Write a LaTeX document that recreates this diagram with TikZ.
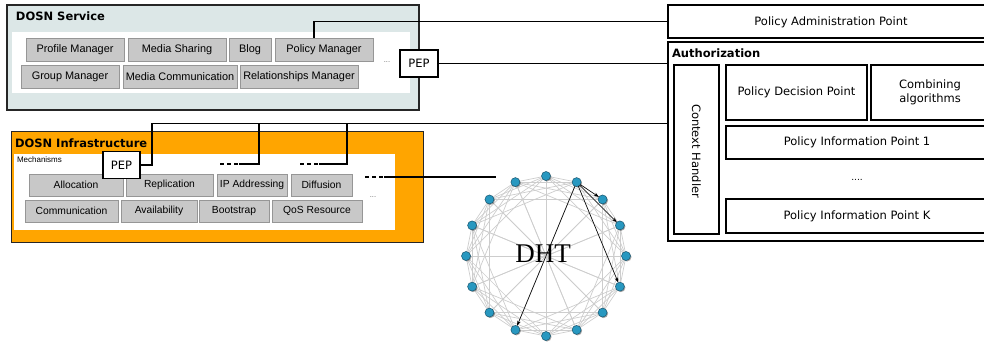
\documentclass[tikz,border=0pt]{standalone}
\usepackage{fontspec}
\setmainfont{DejaVu Sans}
\newfontfamily\arialf{Liberation Sans}
\newfontfamily\dhtf{Liberation Serif}
\usetikzlibrary{arrows.meta,shadows}
\definecolor{svcfill}{RGB}{220,231,231}
\definecolor{infrafill}{RGB}{255,165,0}
\definecolor{gfill}{RGB}{200,200,200}
\definecolor{gline}{RGB}{150,150,150}
\definecolor{dotfill}{RGB}{40,152,192}
\definecolor{dotline}{RGB}{25,85,110}
\definecolor{edgegray}{RGB}{205,205,205}
\begin{document}
\begin{tikzpicture}[x=1pt,y=-1pt,
  every node/.style={inner sep=0pt, outer sep=0pt},
  gbox/.style={draw=gline, line width=0.6pt, fill=gfill, font=\arialf\fontsize{10.9}{12}\selectfont},
  gboxs/.style={gbox, font=\arialf\fontsize{10.3}{12}\selectfont},
  frame/.style={draw=black!85, line width=1.9pt},
  wbox/.style={draw=black, line width=1.7pt, fill=white, font=\fontsize{11.5}{13.5}\selectfont, align=center},
  pepbox/.style={draw=black, line width=1.6pt, fill=white, font=\fontsize{11.5}{13.5}\selectfont},
  title/.style={anchor=west, font=\bfseries\fontsize{11.5}{13.5}\selectfont},
  conn/.style={draw=black, line width=1.8pt},
  dashseg/.style={draw=black, line width=1.8pt, dash pattern=on 4pt off 3pt},
  dots/.style={font=\arialf\fontsize{7.5}{8}\selectfont, text=black!60},
  dnode/.style={circle, minimum size=9pt, fill=dotfill, draw=dotline, line width=0.5pt,
    drop shadow={shadow xshift=1pt, shadow yshift=-1pt, opacity=0.35, fill=black}},
  dedge/.style={draw=edgegray, line width=0.7pt},
  darrow/.style={draw=black, line width=0.6pt, -{Stealth[length=5pt,width=3.5pt]}}
]
\useasboundingbox (0,0) rectangle (984,345);

% ---------- DOSN Service ----------
\node[frame, fill=svcfill, minimum width=412pt, minimum height=105pt] (svc) at (213,57.5) {};
\node[title] (svct) at (16,16) {DOSN Service};
\node[fill=white, minimum width=398pt, minimum height=61pt] (svcin) at (211,62.5) {};
\node[gbox, minimum width=98pt, minimum height=23pt] (prof) at (75,49.5) {Profile Manager};
\node[gbox, minimum width=98pt, minimum height=23pt] (msh) at (177,49.5) {Media Sharing};
\node[gbox, minimum width=42pt, minimum height=23pt] (blog) at (250,49.5) {Blog};
\node[gbox, minimum width=98pt, minimum height=23pt] (pm) at (324,49.5) {Policy Manager};
\node[gbox, minimum width=98pt, minimum height=23pt] (gm) at (70,76.5) {Group Manager};
\node[gbox, minimum width=114pt, minimum height=23pt] (mc) at (180,76.5) {Media Communication};
\node[gbox, minimum width=118pt, minimum height=23pt] (rm) at (299,76.5) {Relationships Manager};
\node[dots] (sdots) at (387,62) {...};
\node[pepbox, minimum width=38pt, minimum height=27pt] (pep1) at (419,63.5) {PEP};

% ---------- DOSN Infrastructure ----------
\node[frame, fill=infrafill, minimum width=412pt, minimum height=111pt] (infra) at (217.5,187) {};
\node[title] (infrat) at (15,143) {DOSN Infrastructure};
\node[fill=white, minimum width=381pt, minimum height=76pt] (infrain) at (204.5,191.5) {};
\node[anchor=west, font=\arialf\fontsize{8}{9}\selectfont] (mech) at (17,160) {Mechanisms};
\node[gboxs, minimum width=94pt, minimum height=22pt] (alloc) at (76,185) {Allocation};
\node[gboxs, minimum width=87pt, minimum height=22pt] (repl) at (169.5,185) {Replication};
\node[gboxs, minimum width=70pt, minimum height=22pt] (ipa) at (252,185) {IP Addressing};
\node[gboxs, minimum width=61pt, minimum height=22pt] (diff) at (321.5,185) {Diffusion};
\node[gboxs, minimum width=93pt, minimum height=22pt] (comm) at (71.5,211) {Communication};
\node[gboxs, minimum width=76pt, minimum height=22pt] (avail) at (159,211) {Availability};
\node[gboxs, minimum width=70pt, minimum height=22pt] (boot) at (234,211) {Bootstrap};
\node[gboxs, minimum width=90pt, minimum height=22pt] (qos) at (317,211) {QoS Resource};
\node[dots] (idots) at (373,197) {...};
\node[pepbox, minimum width=37pt, minimum height=27pt] (pep2) at (121.5,165) {PEP};

% ---------- Right side ----------
\node[wbox, minimum width=320pt, minimum height=33pt] (pap) at (828,21.5) {};
\node[font=\fontsize{11.5}{13.5}\selectfont] (papt) at (831,22) {Policy Administration Point};
\node[wbox, minimum width=320pt, minimum height=199pt] (auth) at (828,141.5) {};
\node[title] (autht) at (672,53) {Authorization};
\node[wbox, minimum width=45pt, minimum height=169pt] (ctx) at (696.5,149.5) {};
\node[rotate=-90, font=\fontsize{11.5}{13.5}\selectfont] (ctxt) at (696.5,151) {Context Handler};
\node[wbox, minimum width=141pt, minimum height=55pt] (pdp) at (796.5,92.5) {Policy Decision Point};
\node[wbox, minimum width=117pt, minimum height=55pt] (comb) at (929.5,92.5) {};
\node[align=center, font=\fontsize{11.5}{13.5}\selectfont] (combt) at (930,92.5) {Combining\\algorithms};
\node[wbox, minimum width=262pt, minimum height=33pt] (pip1) at (857,142.5) {Policy Information Point 1};
\node[font=\fontsize{9}{11}\selectfont] (pdots) at (857,180) {....};
\node[wbox, minimum width=262pt, minimum height=34pt] (pipk) at (857,216) {Policy Information Point K};

% ---------- Connectors ----------
\coordinate (pmtop) at ([xshift=-10pt]pm.north);
\draw[conn] (pmtop) |- (pap.west);
\draw[conn] (pep1.east) -- (pep1.east -| auth.west);

\coordinate (bus0) at (152,123.5);
\coordinate (bus1) at (259,123.5);
\coordinate (bus2) at (347,123.5);
\draw[conn] (pep2.east) -| (bus0) -- (bus0 -| auth.west);

\coordinate (d1a) at (220,164);
\coordinate (d1b) at (239,164);
\coordinate (d2a) at (300,164);
\coordinate (d2b) at (319,164);
\coordinate (d3a) at (365,177);
\coordinate (d3b) at (384,177);
\draw[dashseg] (d1a) -- (d1b);
\draw[dashseg] (d2a) -- (d2b);
\draw[dashseg] (d3a) -- (d3b);
\draw[conn] (d1b) -| (bus1);
\draw[conn] (d2b) -| (bus2);
\coordinate (dhtin) at (496,177);
\draw[conn] (d3b) -- (dhtin);

% ---------- DHT ----------
\foreach \i in {0,...,15} {
  \coordinate (c\i) at ({546+80*cos(90-22.5*\i)},{256-80*sin(90-22.5*\i)});
}
\foreach \i in {0,...,15} {
  \foreach \d in {1,2,3,4,8} {
    \pgfmathtruncatemacro\j{mod(\i+\d,16)}
    \draw[dedge] (c\i) -- (c\j);
  }
}
\node[font=\dhtf\fontsize{27}{30}\selectfont] (dht) at (543,254) {DHT};
\foreach \i in {0,...,15} {
  \node[dnode] (n\i) at (c\i) {};
}
\draw[darrow] (n1) -- (n2);
\draw[darrow] (n1) -- (n3);
\draw[darrow] (n1) -- (n5);
\draw[darrow] (n1) -- (n9);
\end{tikzpicture}
\end{document}
